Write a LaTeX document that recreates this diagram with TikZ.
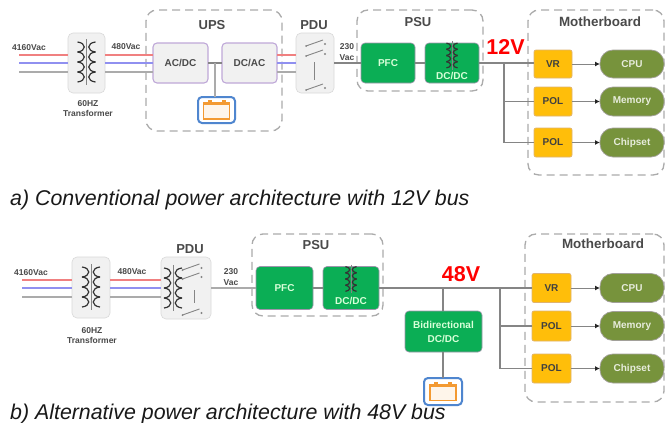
\documentclass[tikz,border=0pt]{standalone}
\usepackage{fontspec}
\usetikzlibrary{arrows.meta,calc}
\setmainfont{Liberation Sans}
\definecolor{linegray}{HTML}{ABABAB}
\definecolor{darkline}{HTML}{858585}
\definecolor{txtgray}{HTML}{4A4A4A}
\definecolor{boxfill}{HTML}{F1F1F1}
\definecolor{dashgray}{HTML}{ABABAB}
\definecolor{lilac}{HTML}{BFA8D8}
\definecolor{psugreen}{HTML}{0BAE55}
\definecolor{amber}{HTML}{FFBE0A}
\definecolor{olive}{HTML}{77933C}
\definecolor{phasered}{HTML}{F08080}
\definecolor{phaseblue}{HTML}{9090F0}
\definecolor{batblue}{HTML}{4F86CF}
\definecolor{batorange}{HTML}{F39A32}
\tikzset{
  bx/.style n args={2}{minimum width=#1pt,minimum height=#2pt,inner sep=0pt,outer sep=0pt},
  group/.style n args={2}{draw=dashgray,line width=1.3pt,dash pattern=on 8pt off 5pt,rounded corners=11pt,bx={#1}{#2}},
  grey box/.style n args={2}{fill=boxfill,draw=boxfill!90!black,line width=.6pt,rounded corners=5pt,bx={#1}{#2}},
  conv/.style n args={2}{fill=boxfill,draw=lilac,line width=1.1pt,rounded corners=4pt,bx={#1}{#2},font=\fontsize{10}{11}\selectfont\bfseries,text=txtgray},
  grn/.style n args={2}{fill=psugreen,draw=lilac!50!gray,line width=.6pt,rounded corners=4pt,bx={#1}{#2},font=\fontsize{10}{11}\selectfont\bfseries,text=white!85!green,align=center},
  reg/.style n args={2}{fill=amber,draw=lilac!50!amber,line width=.7pt,rounded corners=2pt,bx={#1}{#2},font=\fontsize{10}{11}\selectfont\bfseries,text=black!75},
  load/.style n args={2}{fill=olive,draw=lilac!60!olive,line width=.7pt,rounded corners=13pt,bx={#1}{#2},font=\fontsize{10}{11}\selectfont\bfseries,text=white!82!olive},
  batt/.style n args={2}{draw=batblue,fill=white,line width=2pt,rounded corners=4pt,bx={#1}{#2}},
  title/.style={font=\fontsize{13}{15}\selectfont\bfseries,text=txtgray,inner sep=0pt},
  mbtitle/.style={font=\fontsize{13.4}{15}\selectfont\bfseries,text=txtgray,inner sep=0pt},
  small/.style={font=\fontsize{8.5}{9.5}\selectfont\bfseries,text=txtgray,inner sep=0pt,align=center},
  innerlab/.style={font=\fontsize{10}{11}\selectfont\bfseries,text=white!85!green,inner sep=0pt},
  captxt/.style={font=\fontsize{21.35}{24}\selectfont\itshape,anchor=west,inner sep=0pt,text=black!90},
  bus/.style={font=\fontsize{21.5}{24}\selectfont\bfseries,text=red,inner sep=0pt},
  ph r/.style={draw=phasered,line width=1.6pt},
  ph b/.style={draw=phaseblue,line width=1.6pt},
  ph g/.style={draw=linegray,line width=1.6pt},
  wire/.style={draw=darkline,line width=1.2pt},
  feed/.style={draw=linegray,line width=1.6pt},
  arr/.style={draw=darkline,line width=1pt,-{Latex[length=5pt,width=5pt,black!85]}},
  coil/.style={draw=black!80,line width=1.2pt},
  sw/.style={draw=darkline,line width=.9pt},
}
% transformer symbol centred at #1,#2, scaled by #3
\newcommand{\xfmrsym}[3]{%
  \begin{scope}[shift={(#1,#2)},scale=#3]
    \draw[sw] (0,-23) -- (0,23);
    \foreach \k in {-2,-1,0,1}{
      \draw[coil] (-9,{\k*10}) .. controls (0,{\k*10+1}) and (0,{\k*10+9}) .. (-9,{\k*10+10});
      \draw[coil] (9,{\k*10}) .. controls (0,{\k*10+1}) and (0,{\k*10+9}) .. (9,{\k*10+10});
    }
  \end{scope}}
% one switch blade
\newcommand{\swblade}[2]{%
  \draw[sw] (#1-9,#2+2) -- (#1+8,#2-4);
  \fill[darkline] (#1-9,#2+2) circle (1);
  \fill[darkline] (#1+10,#2) circle (1.1);}
% battery symbol centred at #1,#2
\newcommand{\battsym}[2]{%
  \begin{scope}[shift={(#1,#2)}]
    \draw[batorange,line width=1.3pt,fill=white!90!batorange] (-13,-7) rectangle (13,9);
    \fill[batorange] (-13.6,-8) rectangle (13.6,-5);
    \fill[batorange] (-9,-10) rectangle (-5,-7);
    \fill[batorange] (5,-10) rectangle (9,-7);
  \end{scope}}
\begin{document}
\begin{tikzpicture}[x=1pt,y=-1pt]
\useasboundingbox (0,0) rectangle (665,423);
\fill[white] (0,0) rectangle (665,423);

%% ---------- a) ----------
\coordinate (a1) at (19,55); \coordinate (a2) at (19,63); \coordinate (a3) at (19,72);
\node[group={136}{121}] (aups) at (214,70.5) {};
\node[group={126}{81}] (apsu) at (420,50.5) {};
\node[group={136}{165}] (amb) at (596,92.5) {};

\node[grey box={37}{60}] (atx) at (86.5,63) {};
\node[conv={55}{40}] (aac) at (180.5,63) {AC/DC};
\node[conv={55}{40}] (adc) at (249.5,63) {DC/AC};
\node[grey box={38}{60}] (apdu) at (315,63) {};
\node[grn={54}{40}] (apfc) at (388,63) {PFC};
\node[grn={54}{40}] (add) at (452,63) {};
\node[batt={37}{26}] (abat) at (216.5,110) {};
\node[reg={38}{28}] (avr) at (553,64) {VR};
\node[reg={38}{29}] (apol1) at (553,101.5) {POL};
\node[reg={38}{29}] (apol2) at (553,142.5) {POL};
\node[load={64}{28}] (acpu) at (632,64) {CPU};
\node[load={64}{29}] (amem) at (632,101.5) {Memory};
\node[load={64}{29}] (achip) at (632,142.5) {Chipset};

\draw[ph r] (a1) -- (a1 -| atx.west);
\draw[ph b] (a2) -- (a2 -| atx.west);
\draw[ph g] (a3) -- (a3 -| atx.west);
\draw[ph r] (a1 -| atx.east) -- (a1 -| aac.west);
\draw[ph b] (a2 -| atx.east) -- (a2 -| aac.west);
\draw[ph g] (a3 -| atx.east) -- (a3 -| aac.west);
\draw[ph r] (a1 -| adc.east) -- (a1 -| apdu.west);
\draw[ph b] (a2 -| adc.east) -- (a2 -| apdu.west);
\draw[ph g] (a3 -| adc.east) -- (a3 -| apdu.west);
\draw[wire] (aac.east) -- (adc.west);
\coordinate (ajn) at ($(aac.east)!.5!(adc.west)$);
\draw[feed] (ajn) -- (ajn |- abat.north);
\draw[wire] (apdu.east) -- (apfc.west);
\draw[wire] (apfc.east) -- (add.west);
\draw[wire] (add.east) -- (avr.west |- add.east);
\coordinate (atap) at (504,63);
\draw[wire] (atap) |- (apol1.west);
\draw[wire] (atap) |- (apol2.west);
\draw[arr] (avr.east) -- (acpu.west);
\draw[arr] (apol1.east) -- (amem.west);
\draw[arr] (apol2.east) -- (achip.west);

\xfmrsym{86.5}{62}{1}
\xfmrsym{452}{55.5}{.62}
\node[innerlab] (addl) at (452,76) {DC/DC};
\battsym{216.5}{110}
\swblade{315}{44}
\swblade{315}{54}
\swblade{315}{88}
\draw[sw] (314,62) -- (314,80);

\node[title] (lups) at (212,25) {UPS};
\node[title] (lpdu) at (314,25) {PDU};
\node[title] (lpsu) at (418,22) {PSU};
\node[mbtitle] (lmb) at (600,22) {Motherboard};
\node[small] (l41a) at (29,48) {4160Vac};
\node[small] (l48a) at (126,47) {480Vac};
\node[small] (ltxa) at (88,108.5) {60HZ\\[1pt]Transformer};
\node[small] (lvaca) at (347,52) {230\\[1pt]Vac};
\node[bus] (l12) at (505.5,47) {12V};
\node[captxt] (capa) at (10,200) {a) Conventional power architecture with 12V bus};

%% ---------- b) ----------
\coordinate (b1) at (22,280); \coordinate (b2) at (22,288); \coordinate (b3) at (22,297);
\node[group={131}{82}] (bpsu) at (317.5,275) {};
\node[group={139}{168}] (bmb) at (594.5,318) {};
\node[grey box={38}{61}] (btx) at (91,287.5) {};
\node[grey box={50}{62}] (bpdu) at (186,288) {};
\node[grn={57}{43}] (bpfc) at (284.5,288) {PFC};
\node[grn={56}{43}] (bdd) at (351,288) {};
\node[grn={77}{41}] (bbi) at (443.5,331.5) {Bidirectional\\[3pt]DC/DC};
\node[batt={38}{27}] (bbat) at (443,391.5) {};
\node[reg={39}{29}] (bvr) at (551.5,288) {VR};
\node[reg={39}{30}] (bpol1) at (551.5,326) {POL};
\node[reg={39}{29}] (bpol2) at (551.5,368.5) {POL};
\node[load={64}{29}] (bcpu) at (632,288) {CPU};
\node[load={64}{29}] (bmem) at (632,326) {Memory};
\node[load={64}{29}] (bchip) at (632,368.5) {Chipset};

\draw[ph r] (b1) -- (b1 -| btx.west);
\draw[ph b] (b2) -- (b2 -| btx.west);
\draw[ph g] (b3) -- (b3 -| btx.west);
\draw[ph r] (b1 -| btx.east) -- (b1 -| bpdu.west);
\draw[ph b] (b2 -| btx.east) -- (b2 -| bpdu.west);
\draw[ph g] (b3 -| btx.east) -- (b3 -| bpdu.west);
\draw[feed] (bpdu.east) -- (bpfc.west);
\draw[wire] (bpfc.east) -- (bdd.west);
\draw[wire] (bdd.east) -- (bvr.west);
\coordinate (btap) at (443,288);
\coordinate (btap2) at (500,288);
\draw[wire] (btap) -- (bbi.north -| btap);
\draw[wire] (bbi.south -| btap) -- (bbat.north -| btap);
\draw[wire] (btap2) |- (bpol1.west);
\draw[wire] (btap2) |- (bpol2.west);
\draw[arr] (bvr.east) -- (bcpu.west);
\draw[arr] (bpol1.east) -- (bmem.west);
\draw[arr] (bpol2.east) -- (bchip.west);

\xfmrsym{91}{287}{1}
\xfmrsym{173}{288}{1}
\xfmrsym{351}{279}{.62}
\node[innerlab] (bddl) at (351,300.5) {DC/DC};
\battsym{443}{391.5}
\swblade{191.5}{268}
\swblade{191.5}{277}
\swblade{191.5}{313}
\draw[sw] (194,290) -- (194,303);

\node[title] (bups) at (190,249) {PDU};
\node[title] (bpsul) at (316,245) {PSU};
\node[mbtitle] (bmbl) at (603,244) {Motherboard};
\node[small] (l41b) at (31,273) {4160Vac};
\node[small] (l48b) at (132,272) {480Vac};
\node[small] (ltxb) at (92,335.5) {60HZ\\[1pt]Transformer};
\node[small] (lvacb) at (231,277) {230\\[1pt]Vac};
\node[bus] (l48) at (461,274) {48V};
\node[captxt] (capb) at (10,414) {b) Alternative power architecture with 48V bus};
\end{tikzpicture}
\end{document}
